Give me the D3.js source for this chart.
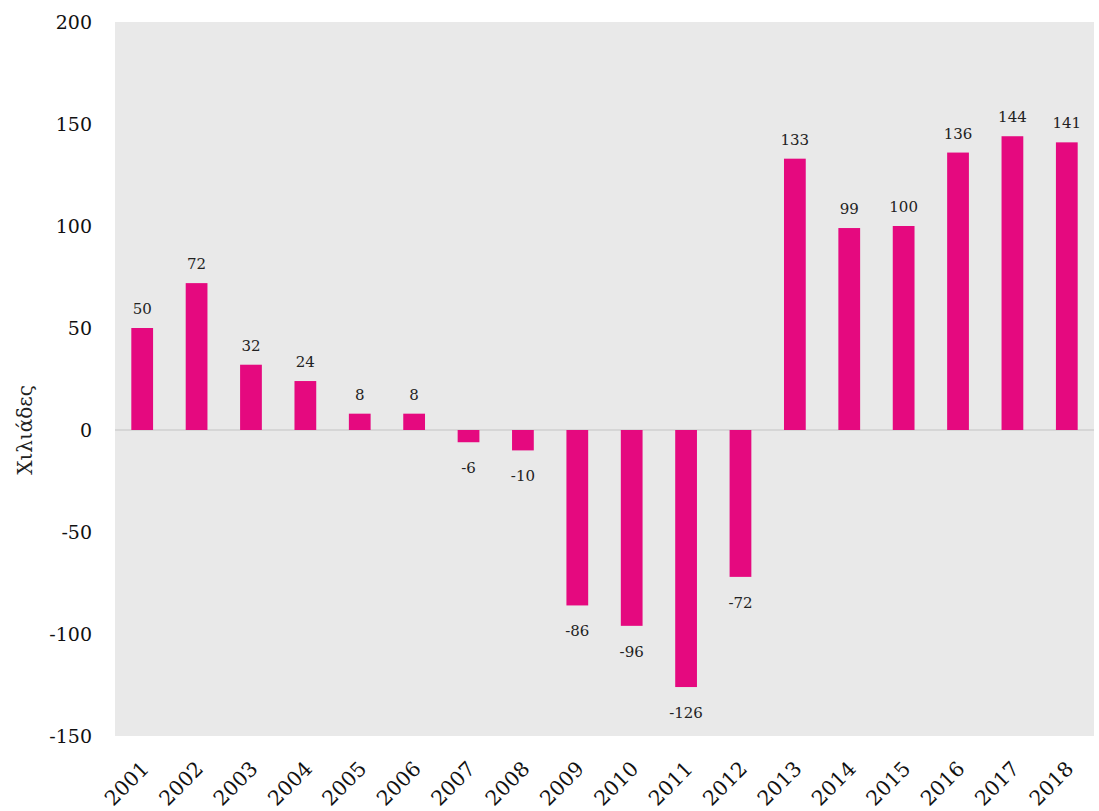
<!DOCTYPE html>
<html>
<head>
<meta charset="utf-8">
<script src="https://cdn.jsdelivr.net/npm/d3@7"></script>
<style>
  body { margin: 0; background: #fff; }
  svg { display: block; }
</style>
</head>
<body>
<script>
const years = ["2001","2002","2003","2004","2005","2006","2007","2008","2009",
  "2010","2011","2012","2013","2014","2015","2016","2017","2018"];
const values = [50, 72, 32, 24, 8, 8, -6, -10, -86, -96, -126, -72, 133, 99, 100, 136, 144, 141];
const yTicks = [200, 150, 100, 50, 0, -50, -100, -150];
const yTitle = "Χιλιάδες";

const width = 1099, height = 811;
const margin = {top: 22, right: 5, bottom: 75, left: 115};
const font = "'DejaVu Serif', serif";

const svg = d3.select("body").append("svg")
    .attr("width", width)
    .attr("height", height)
    .attr("font-family", font);

const x = d3.scaleBand()
    .domain(years)
    .range([margin.left, width - margin.right])
    .paddingInner(0.6)
    .paddingOuter(0.3);

const y = d3.scaleLinear()
    .domain([-150, 200])
    .range([height - margin.bottom, margin.top]);

// plot background
svg.append("rect")
    .attr("x", margin.left)
    .attr("y", margin.top)
    .attr("width", width - margin.left - margin.right)
    .attr("height", height - margin.top - margin.bottom)
    .attr("fill", "#e9e9e9");

// zero line
svg.append("line")
    .attr("x1", margin.left)
    .attr("x2", width - margin.right)
    .attr("y1", y(0))
    .attr("y2", y(0))
    .attr("stroke", "#d6d6d6")
    .attr("stroke-width", 2);

// bars
svg.append("g")
  .selectAll("rect")
  .data(values)
  .join("rect")
    .attr("x", (d, i) => x(years[i]))
    .attr("width", x.bandwidth())
    .attr("y", d => y(Math.max(0, d)))
    .attr("height", d => Math.abs(y(d) - y(0)))
    .attr("fill", "#e5097f");

// value labels
svg.append("g")
    .attr("font-size", 15)
    .attr("text-anchor", "middle")
    .attr("fill", "#222")
  .selectAll("text")
  .data(values)
  .join("text")
    .attr("x", (d, i) => x(years[i]) + x.bandwidth() / 2)
    .attr("y", d => d >= 0 ? y(d) - 14 : y(d) + 31)
    .text(d => d);

// y axis
const yAxis = svg.append("g")
    .attr("transform", `translate(${margin.left},0)`)
    .call(d3.axisLeft(y).tickValues(yTicks).tickFormat(d => String(d)).tickSize(0).tickPadding(23));
yAxis.select(".domain").remove();
yAxis.selectAll("text")
    .attr("font-family", font)
    .attr("font-size", 19)
    .attr("fill", "#111");

// x axis
const xAxis = svg.append("g")
    .attr("transform", `translate(0,${height - margin.bottom})`)
    .call(d3.axisBottom(x).tickSize(0).tickPadding(0));
xAxis.select(".domain").remove();
xAxis.selectAll("text")
    .attr("font-family", font)
    .attr("font-size", 20.5)
    .attr("fill", "#111")
    .attr("text-anchor", "end")
    .attr("dy", null)
    .attr("transform", "translate(8,34) rotate(-45)");

// y title
svg.append("text")
    .attr("transform", `translate(32,${y(0)}) rotate(-90)`)
    .attr("text-anchor", "middle")
    .attr("font-size", 20)
    .attr("fill", "#222")
    .text(yTitle);
</script>
</body>
</html>
